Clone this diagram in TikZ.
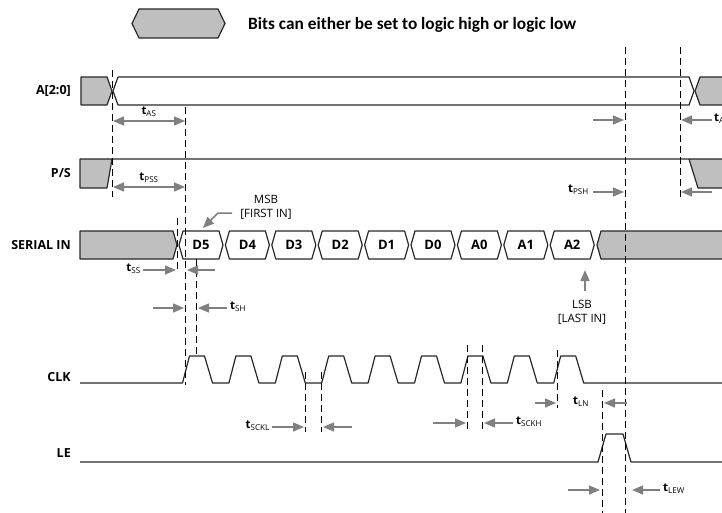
\documentclass[tikz,border=0pt]{standalone}
\usepackage{fontspec}
\setmainfont{Open Sans}
\newfontfamily\legendfont{Carlito}
\usetikzlibrary{arrows.meta}
\definecolor{bitGray}{RGB}{191,191,191}
\definecolor{dimGray}{RGB}{128,128,128}
\definecolor{waveBlack}{RGB}{40,40,40}
\newcommand\tsub[1]{{\bfseries t}\textsubscript{#1}}

\begin{document}
\begin{tikzpicture}[x=1pt,y=-1pt,
  wave/.style={draw=waveBlack,line width=1.2pt,line join=round},
  anyfill/.style={fill=bitGray},
  guide/.style={draw=black,dash pattern=on 7pt off 4pt,line width=1pt},
  dim/.style={draw=dimGray,line width=1.5pt,-{Triangle[length=11pt,width=9pt]}},
  dimboth/.style={dim,{Triangle[length=11pt,width=9pt]}-{Triangle[length=11pt,width=9pt]}},
  sig/.style={anchor=east,inner sep=0pt,font=\bfseries\fontsize{12.5}{14}\selectfont},
  bit/.style={inner sep=0pt,font=\bfseries\fontsize{13}{14}\selectfont},
  tlbl/.style={inner sep=1pt,font=\fontsize{11.5}{12}\selectfont},
  note/.style={inner sep=0pt,align=center,font=\fontsize{11.5}{14}\selectfont}
]
  \useasboundingbox (0,0) rectangle (722,513);

  \draw[wave,anyfill] (132,23.5) -- (139,9) -- (218,9) -- (225,23.5) -- (218,38) -- (139,38) -- cycle;
  \node[anchor=west,inner sep=0pt,font=\legendfont\bfseries\fontsize{17.3}{19}\selectfont] (legend) at (248,25) {Bits can either be set to logic high or logic low};

  \node[sig] (sa) at (71,91) {A[2:0]};
  \node[sig] (sps) at (71,173) {P/S};
  \node[sig] (ssi) at (71,245) {SERIAL IN};
  \node[sig] (sclk) at (71,377) {CLK};
  \node[sig] (sle) at (71,453) {LE};

  \draw[wave,anyfill] (81,77) -- (107,77) -- (112,91) -- (107,105) -- (81,105) -- cycle;
  \draw[wave] (113,91) -- (118,77) -- (689,77) -- (694,91) -- (689,105) -- (118,105) -- cycle;
  \fill[bitGray] (695,91) -- (700,77) -- (722,77) -- (722,105) -- (700,105) -- cycle;
  \draw[wave] (722,77) -- (700,77) -- (695,91) -- (700,105) -- (722,105);

  \draw[wave,anyfill] (80,159) -- (112,159) -- (107,188) -- (80,188) -- cycle;
  \fill[bitGray] (689,159) -- (698,188) -- (722,188) -- (722,159) -- cycle;
  \draw[wave] (112,159) -- (722,159) (689,159) -- (698,188) -- (722,188);

  \draw[wave,anyfill] (80,231) -- (173,231) -- (177,245) -- (173,259) -- (80,259) -- cycle;
  \foreach \b [count=\k from 0] in {D5,D4,D3,D2,D1,D0,A0,A1,A2} {
    \pgfmathsetmacro\xl{179+46.4*\k}
    \draw[wave] (\xl,245) -- ++(4,-14) -- ++(36,0) -- ++(4,14) -- ++(-4,14) -- ++(-36,0) -- cycle;
    \node[bit] (bit\k) at (\xl+22,245) {\b};
  }
  \fill[bitGray] (597,245) -- (601,231) -- (722,231) -- (722,259) -- (601,259) -- cycle;
  \draw[wave] (722,231) -- (601,231) -- (597,245) -- (601,259) -- (722,259);

  \draw[wave] (80,383) \foreach \k in {0,...,8} { -- ({182.5+46.4*\k},383) -- ++(7,-27) -- ++(15,0) -- ++(8,27) } -- (722,383);
  \draw[wave] (80,462) -- (598,462) -- (606,434) -- (623,434) -- (631,462) -- (722,462);

  \draw[guide] (112,70) -- (112,197);
  \draw[guide] (185.5,107) -- (185.5,385);
  \draw[guide] (177,218) -- (177,272);
  \draw[guide] (196.5,259) -- (196.5,357);
  \draw[guide] (305.3,372) -- (305.3,432);
  \draw[guide] (321.7,372) -- (321.7,432);
  \draw[guide] (467.9,345) -- (467.9,430);
  \draw[guide] (482.9,345) -- (482.9,430);
  \draw[guide] (557.5,350) -- (557.5,408);
  \draw[guide] (602,390) -- (602,513);
  \draw[guide] (625,47) -- (625,513);
  \draw[guide] (680,47) -- (680,197);

  \draw[dimboth] (113,121) -- (185,121);
  \node[tlbl] (tas) at (149,112) {\tsub{AS}};
  \draw[dimboth] (113,187) -- (185,187);
  \node[tlbl] (tpss) at (149,178) {\tsub{PSS}};

  \draw[dim] (593,120) -- (624,120);
  \draw[dim] (712,120) -- (681,120);
  \node[tlbl,anchor=west] (tah) at (713,119) {\tsub{AH}};
  \draw[dim] (593,192) -- (624,192);
  \draw[dim] (712,192) -- (681,192);
  \node[tlbl,anchor=east] (tpsh) at (590,190) {\tsub{PSH}};

  \draw[dim] (143,270) -- (176,270);
  \draw[dim] (215,270) -- (187,270);
  \node[tlbl,anchor=east] (tss) at (142,269) {\tsub{SS}};
  \draw[dim] (153,308) -- (184,308);
  \draw[dim] (227,308) -- (198,308);
  \node[tlbl,anchor=west] (tsh) at (229,307) {\tsub{SH}};

  \draw[dim] (272,427) -- (304,427);
  \draw[dim] (352,427) -- (323,427);
  \node[tlbl,anchor=east] (tsckl) at (271,426) {\tsub{SCKL}};
  \draw[dim] (433,423) -- (466,423);
  \draw[dim] (513,423) -- (484,423);
  \node[tlbl,anchor=west] (tsckh) at (515,422) {\tsub{SCKH}};
  \draw[dim] (535,403) -- (556,403);
  \draw[dim] (627,403) -- (604,403);
  \node[tlbl] (tln) at (581,402) {\tsub{LN}};
  \draw[dim] (568,490) -- (600,490);
  \draw[dim] (660,490) -- (632,490);
  \node[tlbl,anchor=west] (tlew) at (662,489) {\tsub{LEW}};

  \draw[dim] (232,213) -- (218,213) -- (203,228);
  \node[note] (msb) at (266,207) {MSB\\{}[FIRST IN]};
  \draw[dim] (585,291) -- (585,270);
  \node[note] (lsb) at (582,312) {LSB\\{}[LAST IN]};
\end{tikzpicture}
\end{document}
